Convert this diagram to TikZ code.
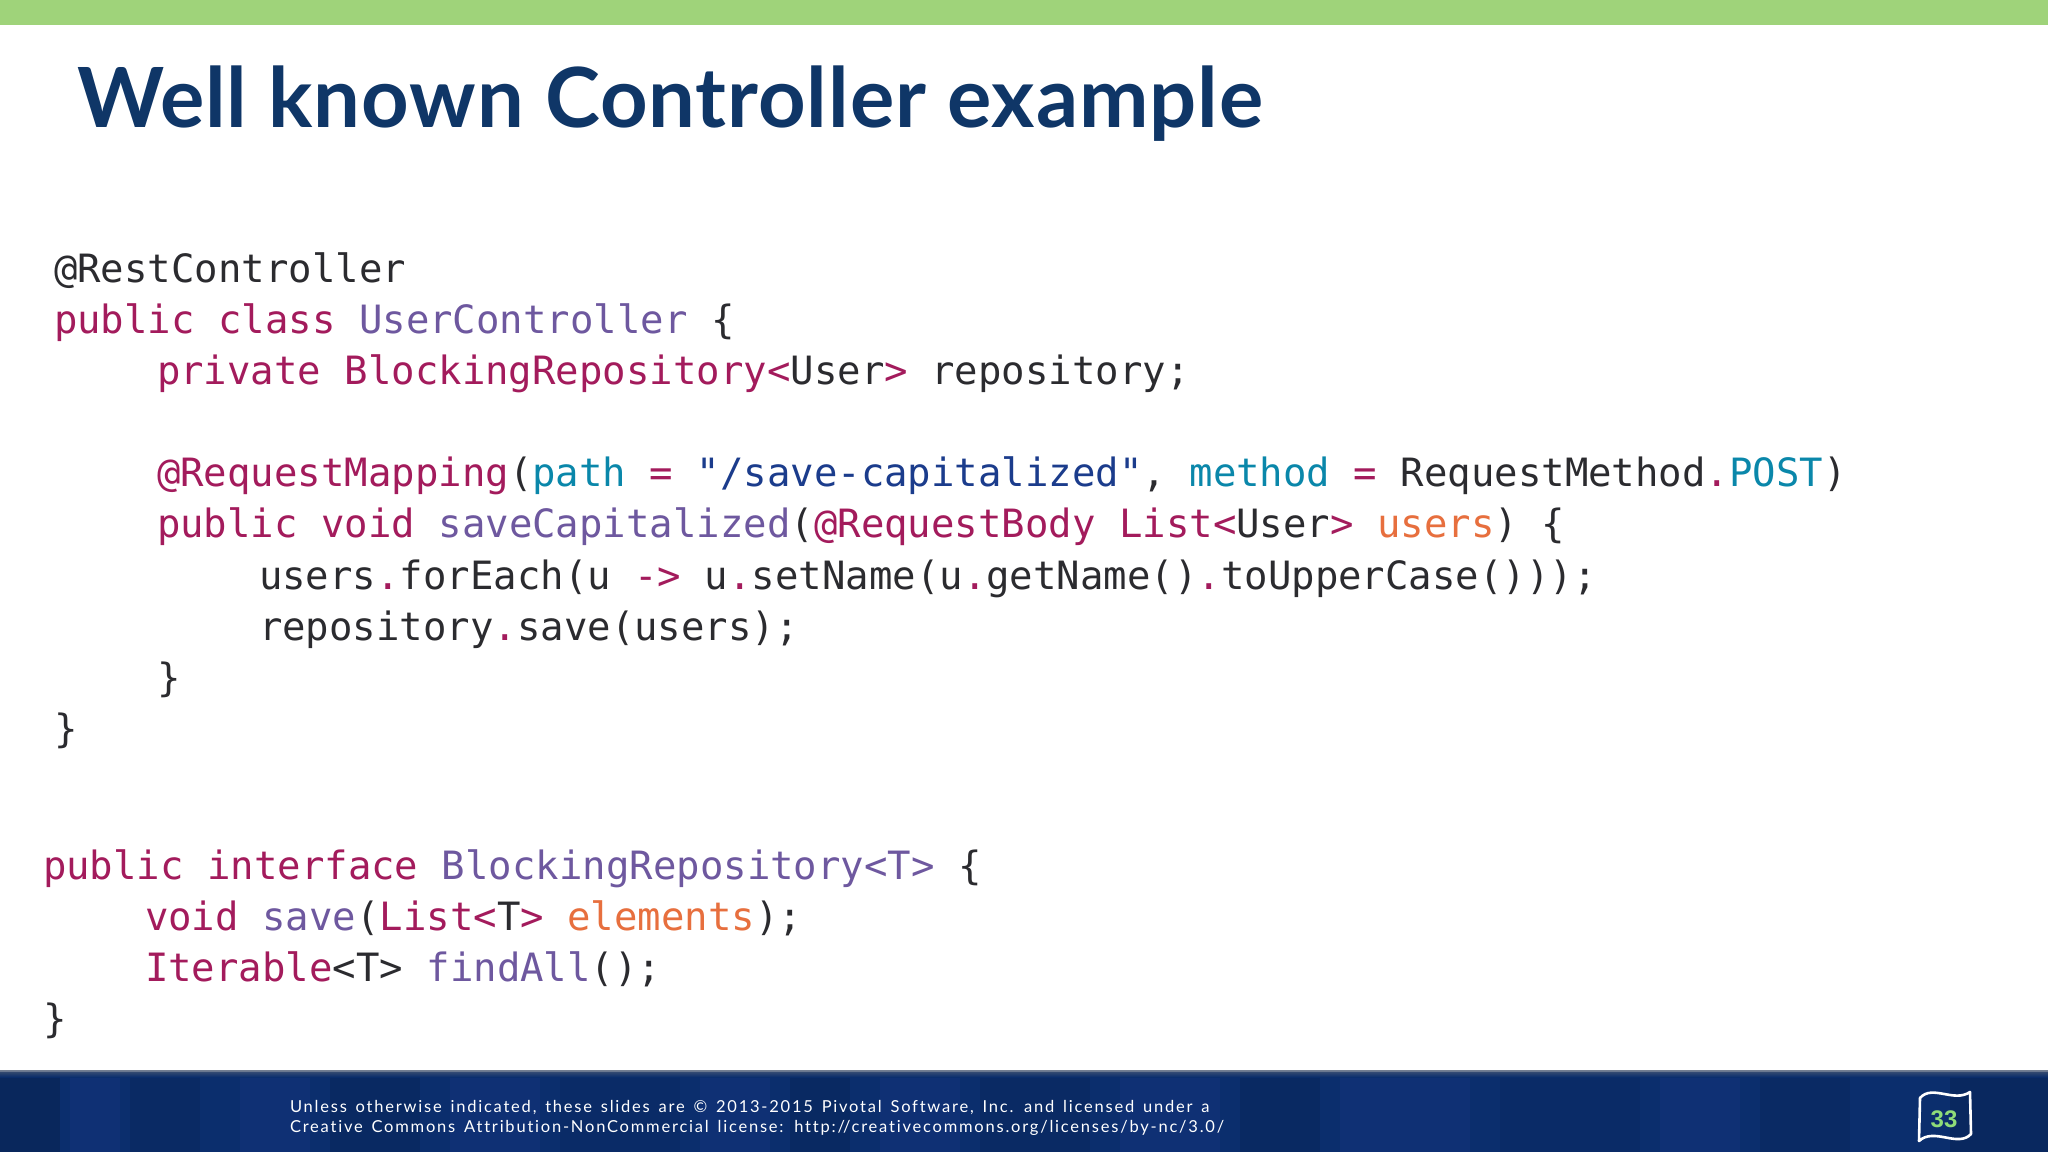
\documentclass[tikz,border=0pt]{standalone}
\usepackage{fontspec}
\setmainfont{Lato}
\newfontfamily\codefont{DejaVu Sans Mono}
\newfontfamily\titlefont[LetterSpace=1.1]{Lato}
\newfontfamily\footfont[LetterSpace=10.8,WordSpace=1.46,Ligatures=NoCommon]{Lato}
\newfontfamily\numfont{Liberation Sans}
\definecolor{barc}{HTML}{9FD37A}
\definecolor{titlec}{HTML}{0F3667}
\definecolor{bandc}{HTML}{0B2E6D}
\definecolor{numc}{HTML}{8FDC78}
\definecolor{plainc}{HTML}{2B2B2F}
\definecolor{kwc}{HTML}{A31B5C}
\definecolor{clsc}{HTML}{6E589F}
\definecolor{attrc}{HTML}{0A87AA}
\definecolor{strc}{HTML}{1B3C8C}
\definecolor{argc}{HTML}{E76F3E}
\newcommand{\kw}[1]{\textcolor{kwc}{#1}}
\newcommand{\cls}[1]{\textcolor{clsc}{#1}}
\newcommand{\attr}[1]{\textcolor{attrc}{#1}}
\newcommand{\strlit}[1]{\textcolor{strc}{#1}}
\newcommand{\param}[1]{\textcolor{argc}{#1}}
\usetikzlibrary{positioning}

\begin{document}
\begin{tikzpicture}[x=1pt, y=-1pt,
                    every node/.style = {inner sep=0pt, outer sep=0pt},
                    codeline/.style = {anchor=base west, text=plainc, font=\fontsize{38.98}{40}\codefont},
                    nextline/.style = {codeline, below = 51.3pt of #1.base west, anchor=base west},
                    footline/.style = {anchor=base west, text=white, font=\fontsize{16.5}{18}\footfont}]
                \useasboundingbox (0,0) rectangle (2048,1152);
                \fill[white] (0,0) rectangle (2048,1152);
                \fill[barc] (0,0) rectangle (2048,25);
                \node (title) [anchor=base west, text=titlec, font=\fontsize{83}{90}\titlefont\bfseries] at (77,127) {Well known Controller example};
                % class
                \node (rest) [codeline] at (54,282) {@RestController};
                \node (cls) [nextline=rest] {\kw{public class} \cls{UserController} \{};
                \node (repo) [nextline=cls, xshift=103pt] {\kw{private BlockingRepository<}User\kw{>} repository;};
                \node (map) [codeline, below = 101.8pt of repo.base west, anchor=base west] {\kw{@RequestMapping}(\attr{path} \kw{=} \strlit{"/save-capitalized"}, \attr{method} \kw{=} RequestMethod\kw{.}\attr{POST})};
                \node (meth) [nextline=map] {\kw{public void} \cls{saveCapitalized}(\kw{@RequestBody List<}User\kw{>} \param{users}) \{};
                \node (each) [nextline=meth, xshift=102pt] {users\kw{.}forEach(u \kw{->} u\kw{.}setName(u\kw{.}getName()\kw{.}toUpperCase()));};
                \node (save) [nextline=each] {repository\kw{.}save(users);};
                \node (endm) [nextline=save, xshift=-102pt] {\}};
                \node (endc) [nextline=endm, xshift=-103pt] {\}};
                % interface
                \node (ifc) [codeline] at (43,879) {\kw{public interface} \cls{BlockingRepository<T>} \{};
                \node (sv) [nextline=ifc, xshift=102pt] {\kw{void} \cls{save}(\kw{List<}T\kw{>} \param{elements});};
                \node (find) [nextline=sv] {\kw{Iterable}<T> \cls{findAll}();};
                \node (endi) [nextline=find, xshift=-102pt] {\}};
                % footer
                \fill[bandc] (0,1072) rectangle (2048,1152);
                \foreach \x/\w/\o in {0/60/30, 130/70/15, 330/90/20, 560/120/10, 790/60/20, 980/110/15, 1240/80/20, 1500/140/10, 1760/90/15, 1950/98/25}
                    \fill[black, opacity=0.\o*0.5] (\x,1072) rectangle (\x+\w,1152);
                \foreach \x/\w in {70/50, 240/70, 450/90, 700/70, 880/80, 1120/100, 1340/130, 1660/80}
                    \fill[blue!60!white, opacity=0.05] (\x,1072) rectangle (\x+\w,1152);
                \shade[top color=black!45!bandc!70!white, bottom color=bandc, opacity=0.8] (0,1070) rectangle (2048,1077);
                \node (foota) [footline] at (290,1112.5) {Unless otherwise indicated, these slides are © 2013-2015 Pivotal Software, Inc. and licensed under a};
                \node (footb) [footline, below = 20pt of foota.base west, anchor=base west] {Creative Commons Attribution-NonCommercial license: http://creativecommons.org/licenses/by-nc/3.0/};
                \node (num) [text=numc, font=\fontsize{24}{24}\numfont\bfseries] at (1944,1119) {33};
                \draw[white, line width=2.6pt, line join=round]
                    (1920,1098) .. controls (1932,1084) and (1954,1103) .. (1970,1092)
                    -- (1971,1134) .. controls (1958,1148) and (1934,1127) .. (1919,1141) -- cycle;
            \end{tikzpicture}
\end{document}
